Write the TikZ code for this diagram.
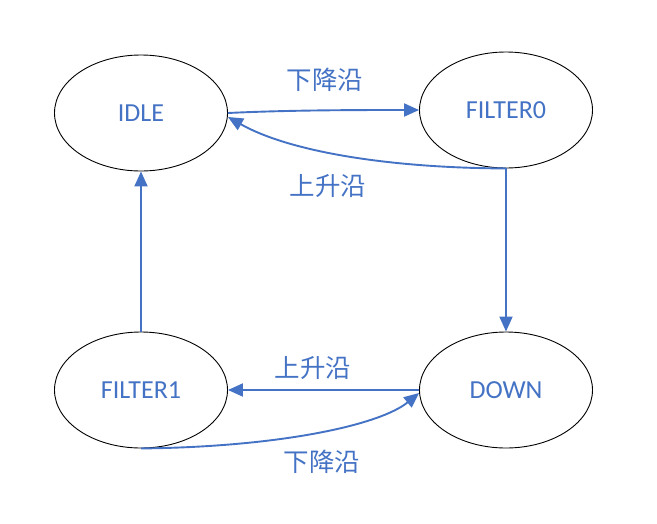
\documentclass[tikz,border=0pt]{standalone}
\usepackage{fontspec}
\setmainfont{Carlito}
\newfontfamily\cjk{Noto Sans CJK SC}
\usetikzlibrary{shapes.geometric,arrows.meta}
\definecolor{ablue}{HTML}{4472C4}
\tikzset{
  state/.style={ellipse,draw=black,line width=0.9pt,minimum width=173pt,minimum height=116pt,inner sep=0pt,
    text=ablue,font=\fontsize{26}{30}\selectfont},
  conn/.style={draw=ablue,line width=1.9pt,-{Triangle[length=15pt,width=13pt]}},
  lab/.style={text=ablue,font=\cjk\fontsize{25.5}{30}\selectfont,inner sep=0pt}
}
\begin{document}
\begin{tikzpicture}[x=1pt,y=-1pt]
\useasboundingbox (0,0) rectangle (657,523);
\node[state] (idle) at (141,113) {IDLE};
\node[state] (f0) at (506,110) {FILTER0};
\node[state] (f1) at (141,390) {FILTER1};
\node[state] (down) at (506,390) {DOWN};
\coordinate (idlein) at ([yshift=-4pt]idle.east);
\coordinate (downin) at ([yshift=-3pt]down.west);
\draw[conn] (idle.east) .. controls (290,110) and (360,110) .. (f0.west);
\draw[conn] (f0.south) .. controls (390,168) and (290,152) .. (idlein);
\draw[conn] (f0.south) -- (down.north);
\draw[conn] (f1.north) -- (idle.south);
\draw[conn] (down.west) -- (f1.east);
\draw[conn] (f1.south) .. controls (280,447) and (380,425) .. (downin);
\node[lab] (l1) at (325,80) {下降沿};
\node[lab] (l2) at (328,186) {上升沿};
\node[lab] (l3) at (313,368) {上升沿};
\node[lab] (l4) at (322,462) {下降沿};
\end{tikzpicture}
\end{document}
